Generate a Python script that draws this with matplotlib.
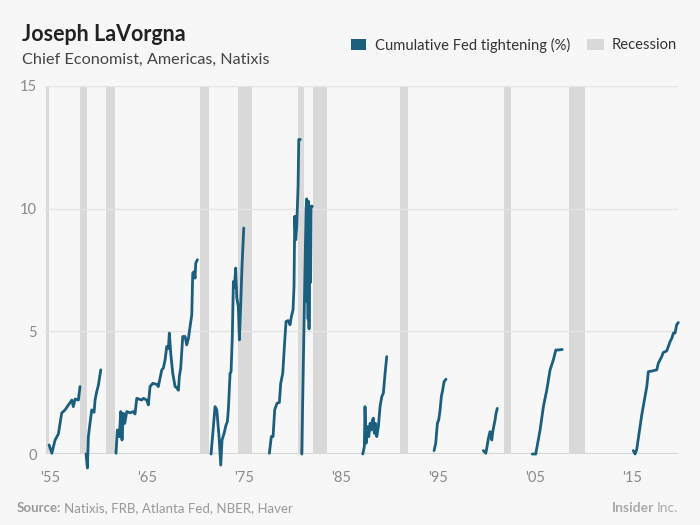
import matplotlib
matplotlib.use("Agg")
import matplotlib.pyplot as plt
import numpy as np
from matplotlib.patches import Rectangle

plt.rcParams["font.family"] = ["Lato", "DejaVu Sans"]

LINE_BLUE = "#1b5e7e"
REC_GREY = "#d9d9d9"
BG = "#f7f7f7"
TICK_GREY = "#8a8a8a"

# NBER recession bands, fractional years as drawn
recession_start = [1954.55, 1958.09, 1960.77, 1970.46, 1974.38, 1980.57, 1982.08, 1991.08, 2001.80, 2008.54]
recession_end = [1954.90, 1958.85, 1961.70, 1971.42, 1975.79, 1981.19, 1983.53, 1991.88, 2002.56, 2010.15]

# cumulative Fed tightening (%) per cycle
c1955_t = [1954.90, 1955.18, 1955.52, 1955.86, 1956.20, 1956.55, 1956.89, 1957.24, 1957.40, 1957.58, 1957.92, 1958.09]
c1955_v = [0.37, 0.03, 0.57, 0.82, 1.67, 1.80, 2.00, 2.20, 1.93, 2.24, 2.20, 2.75]

c1958_t = [1958.71, 1958.85, 1958.95, 1959.12, 1959.30, 1959.54, 1959.64, 1959.81, 1959.98, 1960.23]
c1958_v = [0.00, -0.57, 0.70, 1.26, 1.80, 1.70, 2.20, 2.54, 2.80, 3.43]

c1961_t = [1961.80, 1961.94, 1962.14, 1962.29, 1962.42, 1962.56, 1962.70, 1962.91, 1963.25, 1963.59,
           1963.76, 1963.94, 1964.45, 1964.62, 1964.97, 1965.13, 1965.31, 1965.59, 1966.00, 1966.16,
           1966.34, 1966.52, 1966.68, 1966.86, 1967.03, 1967.20, 1967.30, 1967.44, 1967.65, 1967.89,
           1968.06, 1968.23, 1968.33, 1968.47, 1968.68, 1968.92, 1969.09, 1969.26, 1969.51, 1969.61,
           1969.71, 1969.85, 1969.95, 1970.02, 1970.19]
c1961_v = [0.03, 0.98, 0.71, 1.73, 0.57, 1.66, 1.25, 1.73, 1.68, 1.73,
           1.63, 2.27, 2.20, 2.27, 2.20, 2.00, 2.75, 2.88, 2.84, 2.75,
           3.09, 3.43, 3.50, 3.84, 4.38, 4.30, 4.93, 4.11, 3.29, 2.75,
           2.70, 2.60, 3.16, 3.50, 4.79, 4.79, 4.45, 4.70, 5.40, 5.67,
           7.38, 7.43, 7.17, 7.78, 7.92]

c1971_t = [1971.60, 1972.01, 1972.19, 1972.42, 1972.60, 1972.73, 1972.94, 1973.14, 1973.28, 1973.38,
           1973.56, 1973.66, 1973.79, 1973.90, 1974.00, 1974.14, 1974.25, 1974.41, 1974.52, 1974.66,
           1974.79, 1974.97]
c1971_v = [0.00, 1.93, 1.80, 0.71, -0.45, 0.57, 0.84, 1.18, 1.32, 1.80,
           3.29, 3.35, 4.79, 7.03, 6.80, 7.58, 6.36, 6.01, 4.65, 6.15,
           7.65, 9.21]

c1977_t = [1977.61, 1977.81, 1977.99, 1978.16, 1978.40, 1978.64, 1978.78, 1978.99, 1979.20, 1979.33,
           1979.54, 1979.74, 1979.88, 1980.05, 1980.15, 1980.23, 1980.33, 1980.43, 1980.57, 1980.64,
           1980.80]
c1977_v = [0.03, 0.71, 0.71, 1.80, 2.07, 2.10, 2.88, 3.29, 4.65, 5.40,
           5.44, 5.27, 5.60, 5.88, 6.83, 9.69, 8.73, 9.28, 10.91, 12.82,
           12.82]

c1980_t = [1980.95, 1981.39, 1981.46, 1981.50, 1981.55, 1981.60, 1981.65, 1981.70, 1981.75, 1981.80,
           1981.86, 1981.91, 1982.04]
c1980_v = [0.00, 9.96, 10.40, 6.20, 9.80, 5.50, 10.30, 5.10, 8.50, 9.60,
           7.00, 10.10, 10.10]

c1987_t = [1987.24, 1987.40, 1987.47, 1987.58, 1987.71, 1987.86, 1987.99, 1988.12, 1988.23, 1988.33,
           1988.43, 1988.54, 1988.68, 1988.85, 1989.02, 1989.20, 1989.36, 1989.54, 1989.71]
c1987_v = [0.00, 0.30, 1.93, 0.44, 1.12, 0.71, 1.25, 0.98, 1.39, 1.46,
           0.84, 1.25, 0.71, 1.12, 1.93, 2.34, 2.48, 3.29, 3.97]

c1994_t = [1994.59, 1994.76, 1994.93, 1995.07, 1995.21, 1995.34, 1995.48, 1995.62, 1995.82]
c1994_v = [0.14, 0.44, 1.25, 1.39, 1.80, 2.34, 2.61, 2.95, 3.05]

c1999_t = [1999.67, 1999.92, 2000.02, 2000.19, 2000.36, 2000.54, 2000.64, 2000.77, 2000.88, 2000.98, 2001.11]
c1999_v = [0.14, 0.03, 0.23, 0.64, 0.91, 0.57, 0.91, 1.18, 1.39, 1.66, 1.86]

c2004_t = [2004.72, 2005.07, 2005.52, 2005.86, 2006.21, 2006.55, 2006.89, 2007.14, 2007.40, 2007.81]
c2004_v = [0.00, 0.00, 0.98, 1.93, 2.61, 3.43, 3.84, 4.24, 4.24, 4.26]

c2015_t = [2015.13, 2015.31, 2015.48, 2016.00, 2016.52, 2016.68, 2017.03, 2017.55, 2017.71, 2017.89,
           2018.06, 2018.22, 2018.57, 2018.74, 2018.92, 2019.10, 2019.26, 2019.43, 2019.60, 2019.77]
c2015_v = [0.14, 0.00, 0.18, 1.59, 2.75, 3.36, 3.38, 3.43, 3.70, 3.84,
           3.97, 4.14, 4.20, 4.38, 4.58, 4.72, 4.93, 4.93, 5.27, 5.36]

tick_years = [1955, 1965, 1975, 1985, 1995, 2005, 2015]
tick_labels = ["'55", "'65", "'75", "'85", "'95", "'05", "'15"]
y_ticks = [0, 5, 10, 15]

cycles = [(c1955_t, c1955_v), (c1958_t, c1958_v), (c1961_t, c1961_v), (c1971_t, c1971_v),
          (c1977_t, c1977_v), (c1980_t, c1980_v), (c1987_t, c1987_v), (c1994_t, c1994_v),
          (c1999_t, c1999_v), (c2004_t, c2004_v), (c2015_t, c2015_v)]

fig = plt.figure(figsize=(7, 5.25), dpi=100, facecolor=BG)
ax = fig.add_axes([0.0643, 0.1352, 0.9043, 0.701])
ax.set_facecolor(BG)

for s, e in zip(recession_start, recession_end):
    ax.fill_between([s, e], 0, 15, color=REC_GREY, linewidth=0, zorder=1)

for t, v in cycles:
    ax.plot(t, v, color=LINE_BLUE, linewidth=2.0, solid_joinstyle="round",
            solid_capstyle="round", clip_on=False, zorder=4)

ax.set_xlim(1954.48, 2019.74)
ax.set_ylim(0, 15)
ax.set_xticks(tick_years, tick_labels)
ax.set_yticks(y_ticks, [str(y) for y in y_ticks])
ax.tick_params(axis="both", length=0, colors=TICK_GREY, labelsize=10.5)
ax.tick_params(axis="x", pad=12)
ax.tick_params(axis="y", pad=6)
for sp in ax.spines.values():
    sp.set_visible(False)
for y in y_ticks[1:]:
    ax.axhline(y, color="#e4e4e4", linewidth=1.0, zorder=2)
ax.axhline(0, color="#d6d6d6", linewidth=1.5, zorder=3)

# header
fig.text(22 / 700, 1 - 41 / 525, "Joseph LaVorgna", fontsize=15.5, fontweight="bold", color="#222222")
fig.text(22 / 700, 1 - 64 / 525, "Chief Economist, Americas, Natixis", fontsize=11.7, color="#444444")

# legend
fig.add_artist(Rectangle((351 / 700, 1 - 50 / 525), 15 / 700, 11 / 525,
                         transform=fig.transFigure, color=LINE_BLUE, linewidth=0))
fig.text(375 / 700, 1 - 45 / 525, "Cumulative Fed tightening (%)", fontsize=10.6,
         color="#333333", va="center")
fig.add_artist(Rectangle((587 / 700, 1 - 50 / 525), 17 / 700, 11 / 525,
                         transform=fig.transFigure, color=REC_GREY, linewidth=0))
fig.text(612 / 700, 1 - 45 / 525, "Recession", fontsize=10.6, color="#333333", va="center")

# footer
renderer = fig.canvas.get_renderer()
src_bold = fig.text(17 / 700, 1 - 508 / 525, "Source:", fontsize=9.5, fontweight="bold",
                    color="#999999", va="center")
bb = src_bold.get_window_extent(renderer)
fig.text((bb.x1 + 3) / 700, 1 - 508 / 525, "Natixis, FRB, Atlanta Fed, NBER, Haver", fontsize=9.5,
         color="#999999", va="center")
inc = fig.text(678 / 700, 1 - 508 / 525, "Inc.", fontsize=10, color="#aaaaaa", va="center", ha="right")
bb2 = inc.get_window_extent(renderer)
fig.text((bb2.x0 - 2) / 700, 1 - 508 / 525, "Insider", fontsize=10, fontweight="bold",
         color="#aaaaaa", va="center", ha="right")

fig.savefig("out.png", dpi=100, facecolor=BG)
